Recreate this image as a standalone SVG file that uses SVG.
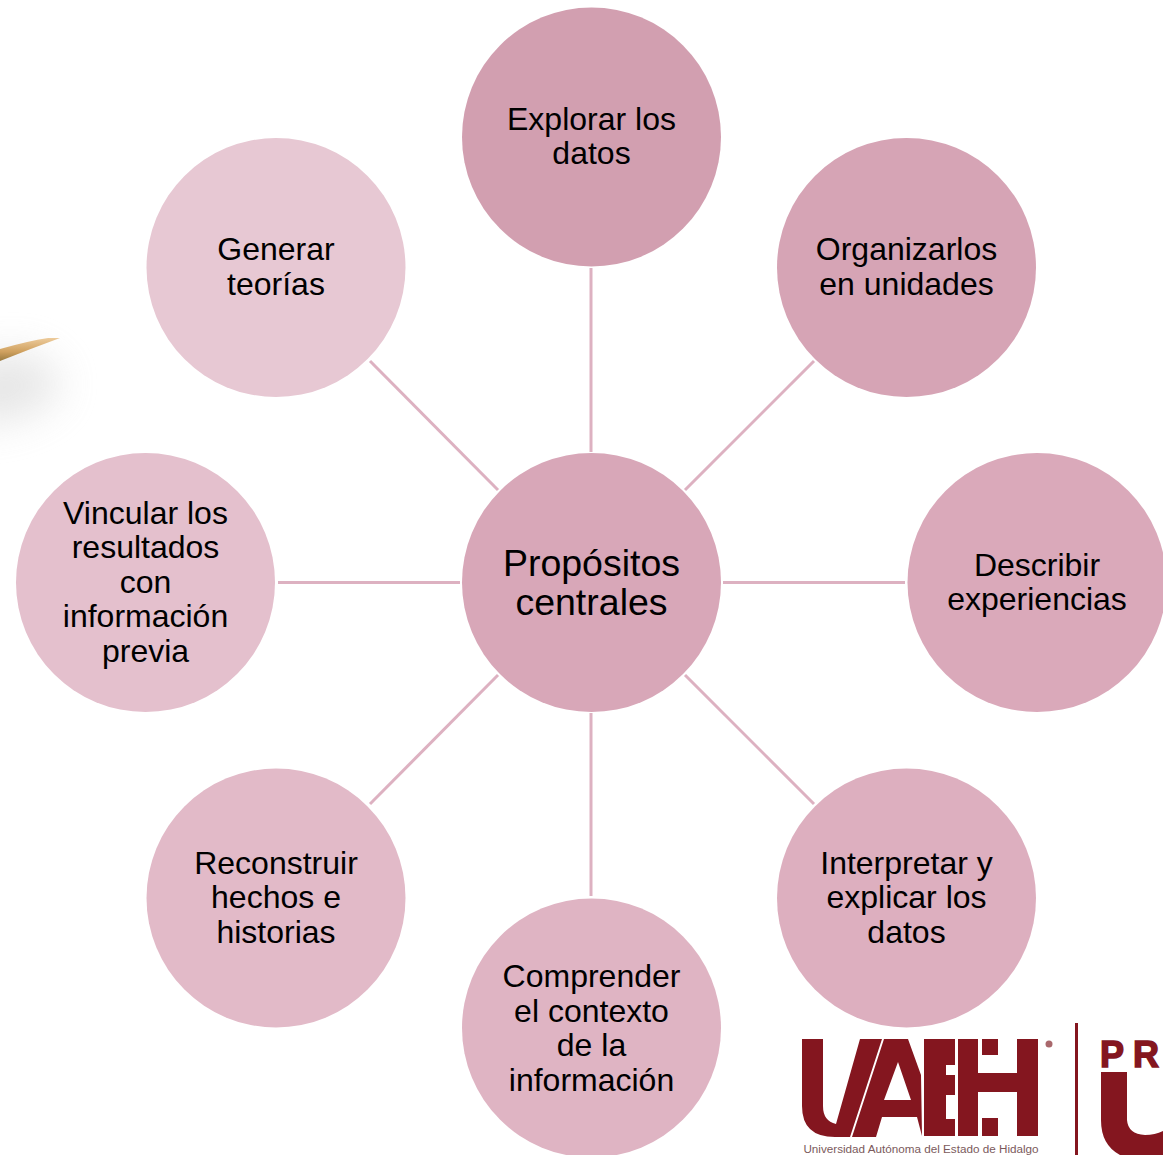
<svg xmlns="http://www.w3.org/2000/svg" width="1163" height="1155" viewBox="0 0 1163 1155">
<style>
.t{font-family:"Liberation Sans",Arial,sans-serif;font-size:32px;fill:#000;text-anchor:middle}
.c{font-size:37.500px}
.conn line{stroke:#DDB1C1;stroke-width:3;fill:none}
.logo{fill:#84161F}
</style>
<defs>
<filter id="blur" x="-60%" y="-60%" width="220%" height="220%"><feGaussianBlur stdDeviation="20"/></filter>
<filter id="soft" x="-10%" y="-50%" width="120%" height="200%"><feGaussianBlur stdDeviation="0.7"/></filter>
<linearGradient id="pencil" x1="0" y1="0" x2="0" y2="1"><stop offset="0" stop-color="#EDCB9C"/><stop offset="0.6" stop-color="#CFA05E"/><stop offset="1" stop-color="#9A7B40"/></linearGradient>
</defs>
<rect width="1163" height="1155" fill="#fff"/>
<g id="pencil-art">
<path d="M-40,360 L30,352 L60,375 L55,400 L15,420 L-40,425Z" fill="#C4C4C4" opacity="0.42" filter="url(#blur)"/>
<path d="M0,349 Q28,341 48,338 L60,338 Q30,349 0,361Z" fill="url(#pencil)" filter="url(#soft)"/>
</g>
<g class="conn" id="connectors">
<line x1="591" y1="268" x2="591" y2="452"/>
<line x1="814" y1="361" x2="685" y2="490"/>
<line x1="723" y1="582.500" x2="905" y2="582.500"/>
<line x1="685" y1="675" x2="814" y2="804"/>
<line x1="591" y1="713" x2="591" y2="896"/>
<line x1="498" y1="675" x2="370" y2="804"/>
<line x1="278" y1="582.500" x2="460" y2="582.500"/>
<line x1="370" y1="361" x2="498" y2="490"/>
</g>
<g id="node-center"><circle cx="591.500" cy="582.500" r="129.500" fill="#D8A7B8"/><text class="t c" x="591.500" y="576">Propósitos</text><text class="t c" x="591.500" y="615">centrales</text></g>
<g id="node-explorar"><circle cx="591.500" cy="137" r="129.500" fill="#D29FB0"/><text class="t" x="591.500" y="130">Explorar los</text><text class="t" x="591.500" y="164">datos</text></g>
<g id="node-organizar"><circle cx="906.500" cy="267.500" r="129.500" fill="#D6A4B5"/><text class="t" x="906.500" y="260">Organizarlos</text><text class="t" x="906.500" y="295">en unidades</text></g>
<g id="node-describir"><circle cx="1037" cy="582.500" r="129.500" fill="#DAA9BA"/><text class="t" x="1037" y="576">Describir</text><text class="t" x="1037" y="610">experiencias</text></g>
<g id="node-interpretar"><circle cx="906.500" cy="898" r="129.500" fill="#DDAFBF"/><text class="t" x="906.500" y="874">Interpretar y</text><text class="t" x="906.500" y="908">explicar los</text><text class="t" x="906.500" y="943">datos</text></g>
<g id="node-comprender"><circle cx="591.500" cy="1028" r="129.500" fill="#DFB4C3"/><text class="t" x="591.500" y="987">Comprender</text><text class="t" x="591.500" y="1022">el contexto</text><text class="t" x="591.500" y="1056">de la</text><text class="t" x="591.500" y="1091">información</text></g>
<g id="node-reconstruir"><circle cx="276" cy="898" r="129.500" fill="#E2BAC8"/><text class="t" x="276" y="874">Reconstruir</text><text class="t" x="276" y="908">hechos e</text><text class="t" x="276" y="943">historias</text></g>
<g id="node-vincular"><circle cx="145.500" cy="582.500" r="129.500" fill="#E4C0CD"/><text class="t" x="145.500" y="524">Vincular los</text><text class="t" x="145.500" y="558">resultados</text><text class="t" x="145.500" y="593">con</text><text class="t" x="145.500" y="627">información</text><text class="t" x="145.500" y="662">previa</text></g>
<g id="node-generar"><circle cx="276" cy="267.500" r="129.500" fill="#E7C8D3"/><text class="t" x="276" y="260">Generar</text><text class="t" x="276" y="295">teorías</text></g>
<g id="logo">
<path class="logo" d="M802,1039H823V1106Q823,1121 836,1124L860,1039H882L850,1137H835Q802,1137 802,1106Z"/>
<path class="logo" fill-rule="evenodd" d="M852,1137L884,1039H908L921,1075L922,1136L917,1117H882L876,1137ZM898,1062L884,1100H911Z"/>
<path class="logo" d="M924,1039H955V1065H946V1075H955V1095H946V1119H955V1136H924Z"/>
<path class="logo" d="M958,1039H978V1136H958Z"/>
<path class="logo" d="M982,1039H998V1055H982ZM982,1118H998V1136H982ZM978,1073H1017V1092H978ZM1017,1039H1038V1136H1017Z"/>
<circle cx="1049" cy="1044" r="3.500" fill="#A9686C"/>
<text x="921" y="1152.500" text-anchor="middle" font-family="Liberation Sans,Arial,sans-serif" font-size="11.700" fill="#7B5A5C">Universidad Autónoma del Estado de Hidalgo</text>
<rect class="logo" x="1075" y="1023" width="3" height="132"/>
<text class="logo" x="1100" y="1067" font-family="Liberation Sans,Arial,sans-serif" font-weight="700" font-size="36" stroke="#84161F" stroke-width="1.500">P<tspan dx="9">R</tspan></text>
<path class="logo" d="M1101,1072H1127V1120Q1128,1134 1145,1135Q1155,1135 1163,1131V1155H1120Q1101,1145 1101,1120Z"/>
</g>
</svg>
